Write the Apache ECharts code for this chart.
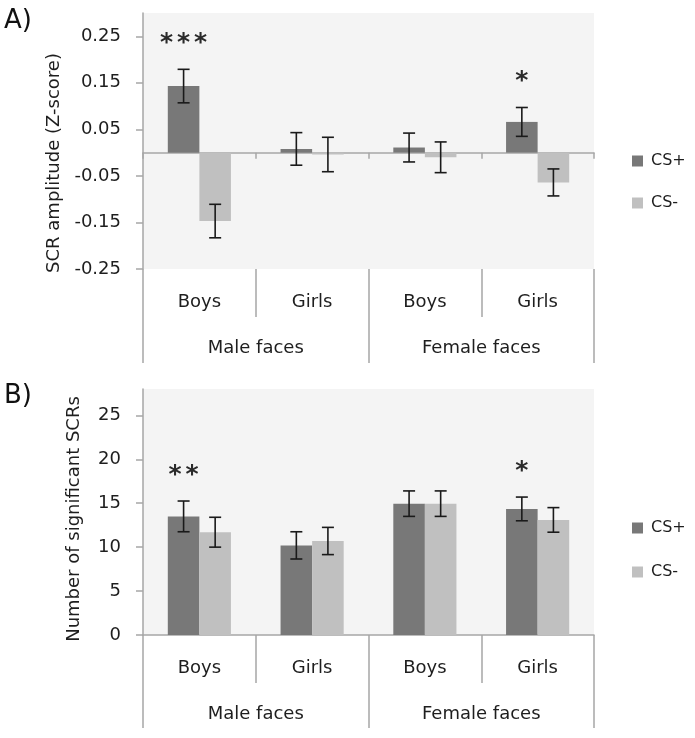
<!DOCTYPE html>
<html><head><meta charset="utf-8">
<script src="https://cdn.jsdelivr.net/npm/echarts@6/dist/echarts.min.js"></script>
<style>html,body{margin:0;padding:0;background:#fff}#c{width:695px;height:738px}</style>
</head><body><div id="c"></div>
<script>
// ---- data ----
const subCategories = ['Boys', 'Girls', 'Boys', 'Girls'];
const groupCategories = ['Male faces', 'Female faces'];
const seriesNames = ['CS+', 'CS-'];
// Panel A: SCR amplitude (Z-score)
const ampCSPlus = [0.143, 0.008, 0.011, 0.066];
const ampCSPlusErr = [0.036, 0.035, 0.031, 0.031];
const ampCSMinus = [-0.147, -0.004, -0.010, -0.064];
const ampCSMinusErr = [0.036, 0.037, 0.033, 0.029];
const ampSig = ['***', '', '', '*'];
const ampTicks = [-0.25, -0.15, -0.05, 0.05, 0.15, 0.25];
// Panel B: Number of significant SCRs
const numCSPlus = [13.5, 10.2, 14.95, 14.35];
const numCSPlusErr = [1.75, 1.55, 1.45, 1.35];
const numCSMinus = [11.7, 10.7, 14.95, 13.1];
const numCSMinusErr = [1.7, 1.55, 1.45, 1.4];
const numSig = ['**', '', '', '*'];
const numTicks = [0, 5, 10, 15, 20, 25];

// ---- styles ----
const FONT = 'DejaVu Sans';
const axisColor = '#a6a6a6';
const plusColor = '#787878';
const minusColor = '#c0c0c0';
const textColor = '#1e1e1e';
const CAT_GAP = 0.44;

function errRender(side, sigArr) {
  return function (params, api) {
    const i = api.value(0), v = api.value(1), e = api.value(2);
    const band = api.size([1, 0])[0];
    const bw = band * (1 - CAT_GAP) / 2;
    const cx = api.coord([i, 0])[0] + side * bw / 2;
    const yTop = api.coord([i, v + e])[1];
    const yBot = api.coord([i, v - e])[1];
    const cap = 6;
    const st = { stroke: '#1a1a1a', lineWidth: 1.6 };
    const children = [
      { type: 'line', shape: { x1: cx, y1: yTop, x2: cx, y2: yBot }, style: st },
      { type: 'line', shape: { x1: cx - cap, y1: yTop, x2: cx + cap, y2: yTop }, style: st },
      { type: 'line', shape: { x1: cx - cap, y1: yBot, x2: cx + cap, y2: yBot }, style: st }
    ];
    const s = sigArr ? sigArr[params.dataIndex] : '';
    for (let k = 0; k < s.length; k++) {
      const x = cx + (k - (s.length - 1) / 2) * 17;
      children.push({
        type: 'text',
        style: { text: s[k], x: x, y: yTop - 26, font: 'bold 25px ' + FONT, fill: '#2a2a2a',
          align: 'center', verticalAlign: 'middle', textAlign: 'center', textVerticalAlign: 'middle' }
      });
    }
    return { type: 'group', children: children };
  };
}

const labelStyle = { fontFamily: FONT, fontSize: 18, color: textColor };
function subAxis(grid, withLine, onZero) {
  return {
    type: 'category', gridIndex: grid, data: subCategories, position: 'bottom',
    axisLine: { show: withLine, onZero: onZero, lineStyle: { color: axisColor, width: 1.5 } },
    axisTick: { show: true, length: onZero ? 6 : 48, interval: 0, lineStyle: { color: axisColor, width: 1.5 } },
    axisLabel: onZero ? { show: false } : Object.assign({ margin: 24, interval: 0 }, labelStyle),
    splitLine: { show: false }
  };
}
function labelAxis(grid, len, margin) {
  return {
    type: 'category', gridIndex: grid, data: subCategories, position: 'bottom',
    axisLine: { show: false, onZero: false },
    axisTick: { show: true, length: len, interval: 0, lineStyle: { color: axisColor, width: 1.5 } },
    axisLabel: Object.assign({ margin: margin, interval: 0 }, labelStyle),
    splitLine: { show: false }
  };
}
function groupAxis(grid, len, margin) {
  return {
    type: 'category', gridIndex: grid, data: groupCategories, position: 'bottom',
    axisLine: { show: false, onZero: false },
    axisTick: { show: true, length: len, interval: 0, lineStyle: { color: axisColor, width: 1.5 } },
    axisLabel: Object.assign({ margin: margin, interval: 0 }, labelStyle),
    splitLine: { show: false }
  };
}
function valAxis(grid, min, max, ticks, fmt) {
  return {
    type: 'value', gridIndex: grid, min: min, max: max,
    axisLine: { show: true, lineStyle: { color: axisColor, width: 1.5 } },
    axisTick: { show: true, length: 7, customValues: ticks, lineStyle: { color: axisColor, width: 1.5 } },
    axisLabel: Object.assign({ customValues: ticks, margin: 22, formatter: fmt }, labelStyle),
    splitLine: { show: false }
  };
}

const chart = echarts.init(document.getElementById('c'), null, { renderer: 'canvas' });
const bar = (name, x, y, data, color) => ({
  name: name, type: 'bar', xAxisIndex: x, yAxisIndex: y, data: data,
  barGap: '0%', barCategoryGap: (CAT_GAP * 100) + '%', itemStyle: { color: color }
});
const errSeries = (x, y, vals, errs, side, sig) => ({
  type: 'custom', xAxisIndex: x, yAxisIndex: y, z: 10,
  data: vals.map((v, i) => [i, v, errs[i]]),
  renderItem: errRender(side, sig)
});
const legendCommon = {
  orient: 'vertical', left: 632, padding: 0, itemWidth: 11, itemHeight: 11, icon: 'rect',
  selectedMode: false, data: seriesNames,
  textStyle: { fontFamily: FONT, fontSize: 16, lineHeight: 18, color: textColor, padding: [0, 0, 0, 3] }
};

chart.setOption({
  animation: false,
  grid: [
    { left: 143, top: 13, width: 451, height: 256, show: true, backgroundColor: '#f4f4f4', borderWidth: 0 },
    { left: 143, top: 389, width: 451, height: 246, show: true, backgroundColor: '#f4f4f4', borderWidth: 0 }
  ],
  xAxis: [
    subAxis(0, true, true),
    labelAxis(0, 48, 24),
    groupAxis(0, 94, 70),
    Object.assign(labelAxis(1, 48, 24), { axisLine: { show: true, onZero: false, lineStyle: { color: axisColor, width: 1.5 } } }),
    groupAxis(1, 93, 70)
  ],
  yAxis: [
    valAxis(0, -0.25, 0.3, ampTicks, v => v.toFixed(2)),
    valAxis(1, 0, 28, numTicks, v => String(v))
  ],
  legend: [
    Object.assign({ top: 152, itemGap: 24 }, legendCommon),
    Object.assign({ top: 519, itemGap: 26 }, legendCommon)
  ],
  graphic: [
    { type: 'text', x: 4, y: 8, style: { text: 'A)', font: '26px ' + FONT, fill: '#111' } },
    { type: 'text', x: 4, y: 383, style: { text: 'B)', font: '26px ' + FONT, fill: '#111' } },
    { type: 'text', x: 54, y: 163, rotation: Math.PI / 2,
      style: { text: 'SCR amplitude (Z-score)', font: '18px ' + FONT, fill: textColor,
        align: 'center', verticalAlign: 'middle', textAlign: 'center', textVerticalAlign: 'middle' } },
    { type: 'text', x: 74, y: 519, rotation: Math.PI / 2,
      style: { text: 'Number of significant SCRs', font: '18px ' + FONT, fill: textColor,
        align: 'center', verticalAlign: 'middle', textAlign: 'center', textVerticalAlign: 'middle' } }
  ],
  series: [
    bar('CS+', 0, 0, ampCSPlus, plusColor),
    bar('CS-', 0, 0, ampCSMinus, minusColor),
    errSeries(0, 0, ampCSPlus, ampCSPlusErr, -1, ampSig),
    errSeries(0, 0, ampCSMinus, ampCSMinusErr, 1, null),
    bar('CS+', 3, 1, numCSPlus, plusColor),
    bar('CS-', 3, 1, numCSMinus, minusColor),
    errSeries(3, 1, numCSPlus, numCSPlusErr, -1, numSig),
    errSeries(3, 1, numCSMinus, numCSMinusErr, 1, null)
  ]
});
</script>
</body></html>
